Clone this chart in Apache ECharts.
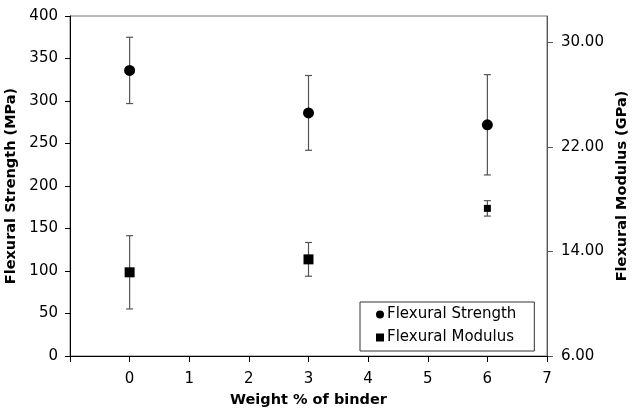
<!DOCTYPE html>
<html>
<head>
<meta charset="utf-8">
<script src="https://cdn.jsdelivr.net/npm/echarts@6/dist/echarts.min.js"></script>
<style>
  html, body { margin: 0; padding: 0; background: #fff; }
  #chart { width: 635px; height: 414px; }
</style>
</head>
<body>
<div id="chart"></div>
<script>
// weight % of binder
var binder = [0, 3, 6];
// flexural strength (MPa), left axis
var strength = [336, 286, 272];
var strengthErr = [39, 44, 59];
// flexural modulus (GPa), right axis
var modulus = [12.40, 13.39, 17.29];
var modulusErr = [2.80, 1.29, 0.59];
var modulusTicks = [6, 14, 22, 30];

var font = 'DejaVu Sans, Liberation Sans, sans-serif';

function pairs(ys) {
    return binder.map(function (x, i) { return [x, ys[i]]; });
}
function errData(ys, es) {
    return binder.map(function (x, i) { return [x, ys[i] - es[i], ys[i] + es[i]]; });
}

// vertical error bar with caps
function errBar(params, api) {
    var lo = api.coord([api.value(0), api.value(1)]);
    var hi = api.coord([api.value(0), api.value(2)]);
    var w = 3.5;
    var st = { stroke: '#555', lineWidth: 1.2 };
    return {
        type: 'group',
        children: [
            { type: 'line', shape: { x1: lo[0], y1: lo[1], x2: hi[0], y2: hi[1] }, style: st },
            { type: 'line', shape: { x1: lo[0] - w, y1: lo[1], x2: lo[0] + w, y2: lo[1] }, style: st },
            { type: 'line', shape: { x1: hi[0] - w, y1: hi[1], x2: hi[0] + w, y2: hi[1] }, style: st }
        ]
    };
}

var titleStyle = { fontFamily: font, fontSize: 14.5, fontWeight: 'bold', color: '#000' };

var chart = echarts.init(document.getElementById('chart'));
var option = {
    animation: false,
    textStyle: { fontFamily: font },
    grid: {
        left: 70, right: 88, top: 16, bottom: 58,
        outerBoundsMode: 'none',
        containLabel: false,
        show: true, borderColor: '#777', borderWidth: 1
    },
    legend: {
        orient: 'vertical',
        left: 360, top: 302,
        padding: [5, 18, 6, 16],
        itemGap: 8,
        itemWidth: 8, itemHeight: 8,
        borderColor: '#333', borderWidth: 1,
        borderRadius: 0,
        backgroundColor: '#fff',
        textStyle: { fontFamily: font, fontSize: 15, color: '#000', padding: [0, 0, 0, -2] },
        data: [
            { name: 'Flexural Strength', icon: 'circle' },
            { name: 'Flexural Modulus', icon: 'rect' }
        ]
    },
    xAxis: {
        type: 'value',
        min: -1, max: 7, interval: 1,
        name: 'Weight % of binder',
        nameLocation: 'middle',
        nameGap: 37,
        nameTextStyle: titleStyle,
        splitLine: { show: false },
        axisLine: { onZero: false, lineStyle: { color: '#000' } },
        axisTick: { inside: false, length: 6, lineStyle: { color: '#000' } },
        axisLabel: {
            fontFamily: font, fontSize: 15, color: '#000', margin: 16,
            formatter: function (v) { return v < 0 ? '' : String(v); }
        }
    },
    yAxis: [{
        type: 'value',
        min: 0, max: 400, interval: 50,
        name: 'Flexural Strength (MPa)',
        nameLocation: 'middle',
        nameGap: 46,
        nameTextStyle: titleStyle,
        splitLine: { show: false },
        axisLine: { show: true, onZero: false, lineStyle: { color: '#000' } },
        axisTick: { show: true, length: 5, lineStyle: { color: '#000' } },
        axisLabel: { fontFamily: font, fontSize: 15, color: '#000', margin: 12 }
    }, {
        type: 'value',
        position: 'right',
        min: 6, max: 32,
        name: 'Flexural Modulus (GPa)',
        nameLocation: 'middle',
        nameGap: 62,
        nameRotate: 90,
        nameTextStyle: titleStyle,
        splitLine: { show: false },
        axisLine: { show: true, onZero: false, lineStyle: { color: '#555' } },
        axisTick: { show: true, length: 6, customValues: modulusTicks, lineStyle: { color: '#555' } },
        axisLabel: {
            fontFamily: font, fontSize: 15, color: '#000', margin: 14,
            customValues: modulusTicks,
            formatter: function (v) { return v.toFixed(2); }
        }
    }],
    series: [{
        type: 'custom',
        yAxisIndex: 0,
        renderItem: errBar,
        encode: { x: 0, y: [1, 2] },
        data: errData(strength, strengthErr),
        z: 1,
        silent: true
    }, {
        type: 'custom',
        yAxisIndex: 1,
        renderItem: errBar,
        encode: { x: 0, y: [1, 2] },
        data: errData(modulus, modulusErr),
        z: 1,
        silent: true
    }, {
        name: 'Flexural Strength',
        type: 'scatter',
        yAxisIndex: 0,
        symbol: 'circle',
        symbolSize: 11,
        itemStyle: { color: '#000', opacity: 1 },
        data: pairs(strength),
        z: 3
    }, {
        name: 'Flexural Modulus',
        type: 'scatter',
        yAxisIndex: 1,
        symbol: 'rect',
        // the last square is drawn smaller in the original
        symbolSize: function (v, p) { return p.dataIndex === 2 ? 7 : 10; },
        itemStyle: { color: '#000', opacity: 1 },
        data: pairs(modulus),
        z: 3
    }]
};
chart.setOption(option);
</script>
</body>
</html>
